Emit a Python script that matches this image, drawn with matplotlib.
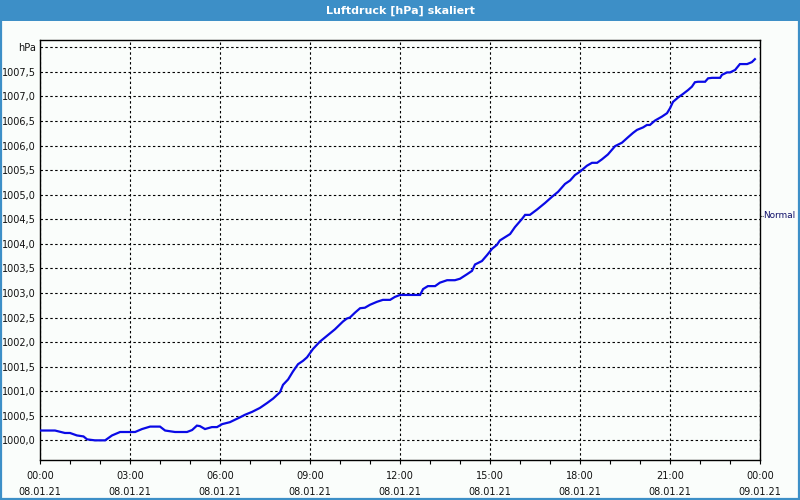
import matplotlib
matplotlib.use("Agg")
import matplotlib.pyplot as plt
from matplotlib.patches import Rectangle
import matplotlib.transforms as mtransforms

# ---- data ----
title = "Luftdruck [hPa] skaliert"
unit_label = "hPa"
hours = [0.0, 0.5, 0.83, 1.0, 1.23, 1.45, 1.57, 1.83, 2.17, 2.4, 2.67, 3.17, 3.4, 3.67,
         4.0, 4.17, 4.5, 4.9, 5.07, 5.23, 5.33, 5.5, 5.73, 5.9, 6.07, 6.33, 6.67, 6.83,
         7.07, 7.33, 7.57, 7.77, 8.0, 8.1, 8.27, 8.43, 8.6, 8.77, 8.9, 9.1, 9.33, 9.57,
         9.83, 10.1, 10.23, 10.33, 10.5, 10.67, 10.83, 11.0, 11.23, 11.43, 11.67, 11.83,
         12.0, 12.67, 12.77, 12.93, 13.17, 13.33, 13.57, 13.83, 14.0, 14.23, 14.4, 14.5,
         14.73, 14.9, 15.07, 15.23, 15.33, 15.67, 15.83, 16.07, 16.17, 16.33, 16.57, 16.83,
         17.07, 17.27, 17.5, 17.67, 17.83, 18.0, 18.23, 18.4, 18.57, 18.73, 18.93, 19.17,
         19.4, 19.6, 19.77, 19.9, 20.1, 20.23, 20.33, 20.5, 20.73, 20.9, 21.0, 21.1, 21.27,
         21.43, 21.6, 21.73, 21.83, 21.93, 22.17, 22.27, 22.4, 22.67, 22.73, 22.9, 23.0,
         23.17, 23.33, 23.57, 23.73, 23.83]
pressure = [1000.20, 1000.20, 1000.15, 1000.15, 1000.10, 1000.08, 1000.02, 1000.00, 1000.00,
            1000.10, 1000.17, 1000.17, 1000.23, 1000.28, 1000.28, 1000.20, 1000.17, 1000.17,
            1000.21, 1000.30, 1000.29, 1000.23, 1000.27, 1000.27, 1000.33, 1000.37, 1000.47,
            1000.52, 1000.58, 1000.66, 1000.76, 1000.85, 1000.98, 1001.13, 1001.24, 1001.40,
            1001.55, 1001.62, 1001.69, 1001.86, 1002.01, 1002.13, 1002.26, 1002.42, 1002.48,
            1002.50, 1002.60, 1002.69, 1002.70, 1002.76, 1002.82, 1002.86, 1002.86, 1002.92,
            1002.96, 1002.96, 1003.08, 1003.14, 1003.14, 1003.21, 1003.26, 1003.26, 1003.29,
            1003.38, 1003.45, 1003.58, 1003.65, 1003.77, 1003.90, 1003.98, 1004.07, 1004.20,
            1004.34, 1004.51, 1004.59, 1004.59, 1004.70, 1004.83, 1004.96, 1005.06, 1005.22,
            1005.29, 1005.40, 1005.47, 1005.59, 1005.65, 1005.65, 1005.72, 1005.82, 1005.99,
            1006.06, 1006.17, 1006.26, 1006.32, 1006.37, 1006.42, 1006.42, 1006.51, 1006.59,
            1006.66, 1006.76, 1006.89, 1006.98, 1007.05, 1007.13, 1007.20, 1007.29, 1007.30,
            1007.30, 1007.37, 1007.38, 1007.38, 1007.44, 1007.49, 1007.49, 1007.54, 1007.66,
            1007.66, 1007.70, 1007.76]
normal_value = 1004.57
normal_label = "Normal"
y_ticks = [1000.0, 1000.5, 1001.0, 1001.5, 1002.0, 1002.5, 1003.0, 1003.5, 1004.0,
           1004.5, 1005.0, 1005.5, 1006.0, 1006.5, 1007.0, 1007.5, 1008.0]
y_labels = ["1000,0", "1000,5", "1001,0", "1001,5", "1002,0", "1002,5", "1003,0", "1003,5",
            "1004,0", "1004,5", "1005,0", "1005,5", "1006,0", "1006,5", "1007,0", "1007,5",
            unit_label]
x_ticks = [0, 3, 6, 9, 12, 15, 18, 21, 24]
x_labels = ["00:00\n08.01.21", "03:00\n08.01.21", "06:00\n08.01.21", "09:00\n08.01.21",
            "12:00\n08.01.21", "15:00\n08.01.21", "18:00\n08.01.21", "21:00\n08.01.21",
            "00:00\n09.01.21"]

# ---- figure ----
bg = "#fafdfb"
bar = "#3d8fc7"
fig = plt.figure(figsize=(8, 5), dpi=100, facecolor=bg)
ax = fig.add_axes([40 / 800, 40 / 500, 720 / 800, 420 / 500], facecolor=bg)

ax.plot(hours, pressure, color="#0a0ae6", lw=1.6, solid_joinstyle="miter", zorder=3)

ax.set_xlim(0, 24)
ax.set_ylim(999.6, 1008.15)
ax.set_xticks(x_ticks)
ax.set_xticklabels(x_labels, fontsize=7, linespacing=1.75, color="#111111")
ax.set_xticks(range(0, 25), minor=True)
ax.set_yticks(y_ticks)
ax.set_yticklabels(y_labels, fontsize=7, color="#111111")
ax.tick_params(axis="x", which="both", length=3, width=0.8, direction="out", pad=5)
ax.tick_params(axis="y", which="both", length=0, pad=3)

ax.grid(True, which="major", color="black", linestyle=(0, (2.2, 2.2)), linewidth=0.8)
for s in ax.spines.values():
    s.set_color("black")
    s.set_linewidth(1.0)

# Normal marker on the right
trans = mtransforms.blended_transform_factory(ax.transAxes, ax.transData)
ax.plot([1.0, 1.004], [normal_value, normal_value], transform=trans, color="black",
        lw=0.8, linestyle=(0, (1, 1)), clip_on=False)
ax.text(1.0045, normal_value, normal_label, transform=trans, fontsize=6.4, color="#10106a",
        ha="left", va="center", clip_on=False)

# Title bar and border
fig.patches.append(Rectangle((0, 1 - 21 / 500), 1, 21 / 500, transform=fig.transFigure,
                             facecolor=bar, edgecolor="none", zorder=0))
fig.patches.append(Rectangle((1 / 800, 1 / 500), 798 / 800, 498 / 500, transform=fig.transFigure,
                             facecolor="none", edgecolor=bar, linewidth=1.6, zorder=0))
fig.text(0.5, 1 - 10.5 / 500, title, ha="center", va="center", color="white",
         fontsize=8, fontweight="bold")

fig.savefig("out.png", dpi=100, facecolor=bg)
